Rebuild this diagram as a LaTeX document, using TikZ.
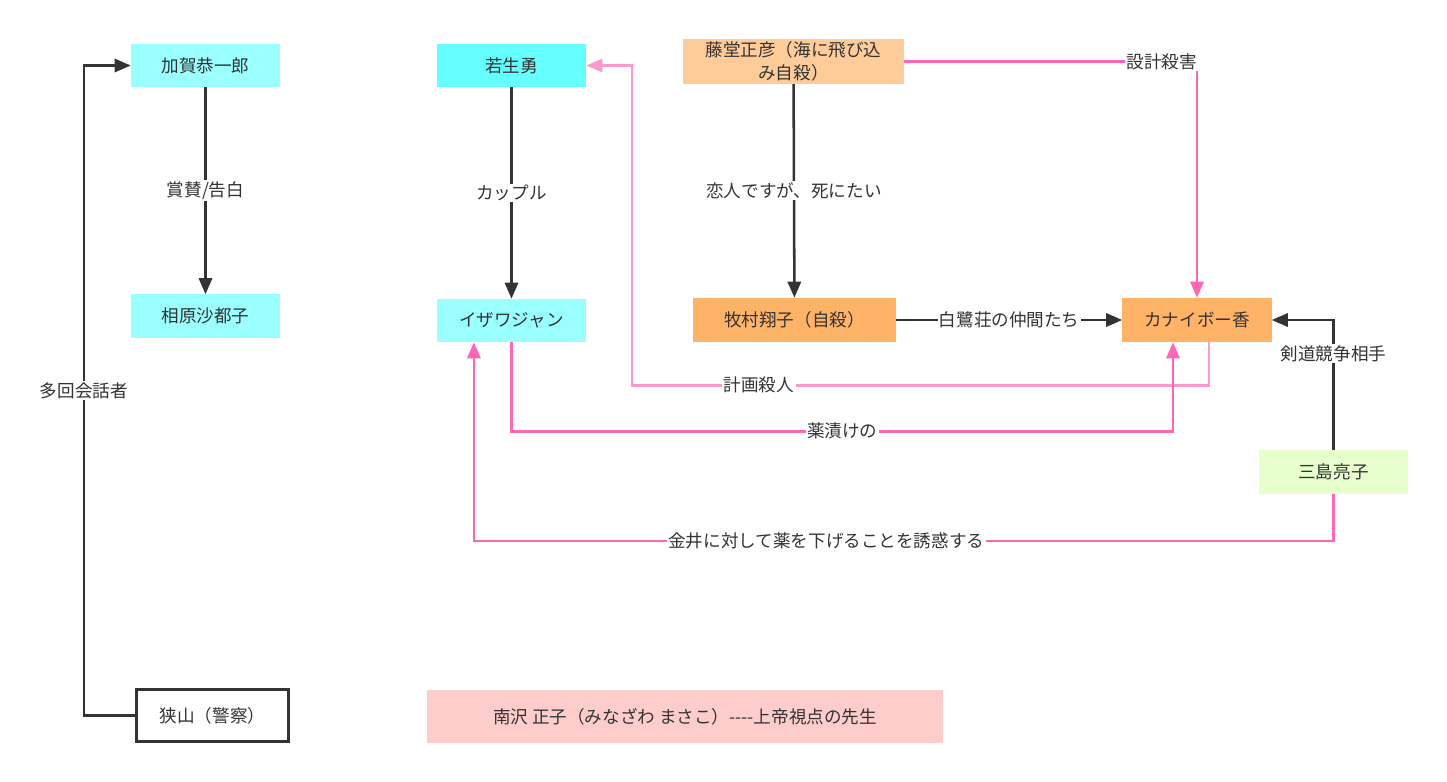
\documentclass[tikz,border=0pt]{standalone}
\usepackage{fontspec}
\setmainfont{Noto Sans CJK JP}
\usepackage{xcolor}
\usepackage{tikz}
\usetikzlibrary{arrows.meta,positioning}

\definecolor{ink}{HTML}{333333}
\definecolor{cyanA}{HTML}{99FFFF}
\definecolor{cyanB}{HTML}{66FFFF}
\definecolor{peach}{HTML}{FFCC99}
\definecolor{orangeB}{HTML}{FFB366}
\definecolor{lime}{HTML}{E6FFCC}
\definecolor{rose}{HTML}{FFCCCC}
\definecolor{pinkA}{HTML}{FF66B3}
\definecolor{pinkB}{HTML}{FF99CC}

\begin{document}
\begin{tikzpicture}[
    x=0.025cm, y=-0.025cm,
    person/.style={inner sep=2pt, minimum width=3.725cm, minimum height=1.075cm,
                   align=center, text=ink, font=\fontsize{12.5}{16}\selectfont},
    lbl/.style={fill=white, inner sep=1pt, text=ink,
                font=\fontsize{12.5}{15}\selectfont},
    link/.style={-{Triangle[length=0.4cm,width=0.33cm]}, line width=1.8pt, ink},
    hot/.style={link, pinkA},
    soft/.style={link, pinkB}
]
\useasboundingbox (0,0) rectangle (1447,782);

% Left column
\node[person, fill=cyanA] (kaga) at (205.5,65.5) {加賀恭一郎};
\node[person, fill=cyanA] (aihara) at (205.5,316) {相原沙都子};
\node[person, draw=ink, line width=2.2pt, fill=white, minimum width=3.8cm,
      minimum height=1.3cm] (sayama) at (212.5,715.5) {狭山（警察）};

% Middle column
\node[person, fill=cyanB] (wakao) at (511.5,65.5) {若生勇};
\node[person, fill=cyanA] (izawa) at (511.5,320.5) {イザワジャン};
\node[person, fill=peach, minimum width=5.525cm] (todo) at (793.5,61.5)
    {藤堂正彦（海に飛び込\\み自殺）};
\node[person, fill=orangeB, minimum width=5.075cm, minimum height=1.1cm]
    (makimura) at (794.5,320) {牧村翔子（自殺）};

% Right column
\node[person, fill=orangeB, minimum height=1.1cm] (kanai) at (1197,320) {カナイボー香};
\node[person, fill=lime] (mishima) at (1333.5,472) {三島亮子};

% Bottom note
\node[person, fill=rose, minimum width=12.9cm, minimum height=1.325cm]
    (minamisawa) at (685,716.5) {南沢 正子（みなざわ まさこ）-{}-{}-{}-上帝視点の先生};

% Dark links
\draw[link] (kaga) -- node[lbl]{賞賛/告白} (aihara);
\draw[link] (sayama.west) -- ++(-51,0) |- node[lbl, pos=0.25]{多回会話者} (kaga.west);
\draw[link] (wakao) -- node[lbl]{カップル} (izawa);
\draw[link] (todo) -- node[lbl]{恋人ですが、死にたい} (makimura);
\draw[link] (makimura) -- node[lbl]{白鷺荘の仲間たち} (kanai);
\draw[link] (mishima.north) |- node[lbl, pos=0.37]{剣道競争相手} (kanai.east);

% Pink links
\draw[hot] (todo.east) -| node[lbl, pos=0.44]{設計殺害} (kanai.north);
\draw[soft] ([xshift=0.3cm]kanai.south) -- ++(0,43)
    -- node[lbl, pos=0.78]{計画殺人} ++(-577,0) |- (wakao.east);
\draw[hot] (izawa.south) -- ++(0,89)
    -| node[lbl, pos=0.25]{薬漬けの} ([xshift=-0.6cm]kanai.south);
\draw[hot] (mishima.south) -- ++(0,47)
    -| node[lbl, pos=0.295]{金井に対して薬を下げることを誘惑する} ([xshift=-0.94cm]izawa.south);

\end{tikzpicture}
\end{document}
